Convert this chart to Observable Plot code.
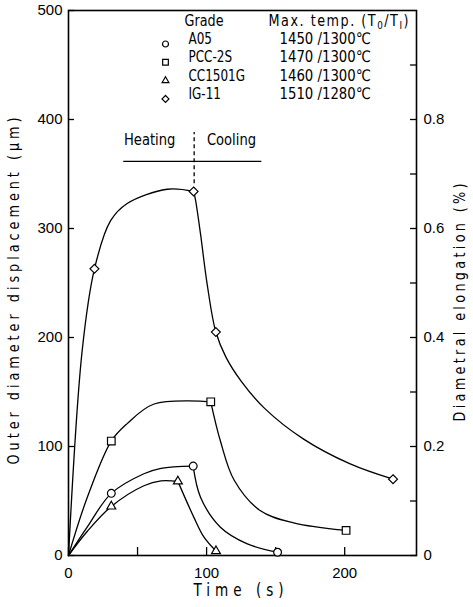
<!DOCTYPE html>
<html><head><meta charset="utf-8">
<script src="https://cdn.jsdelivr.net/npm/d3@7"></script>
<script src="https://cdn.jsdelivr.net/npm/@observablehq/plot@0.6"></script>
<style>
body{margin:0;background:#fff;}
#chart{width:473px;height:607px;}
.cond text{font-family:"DejaVu Sans",sans-serif;}
</style></head><body><div id="chart"></div>
<script>
// ---- data ----
const grades = ["A05", "PCC-2S", "CC1501G", "IG-11"];
const maxTemps = ["1450 /1300℃", "1470 /1300℃", "1460 /1300℃", "1510 /1280℃"];

// curve traces [time (s), outer diameter displacement (µm)]
const a05Heating = [[0,0],[13.5,26],[31,57],[54.6,75],[67,80],[90.3,82]];
const a05Cooling = [[90.3,82],[95.6,53.5],[110,26],[129.5,10.7],[151.4,3]];
const pccHeating = [[0,0],[13.5,53],[31,105],[42.5,121],[62,139],[103,141]];
const pccCooling = [[103,141],[110,105],[120,69],[139,41],[163,30],[201,23]];
const ccHeating = [[0,0],[13.5,22],[31,45],[54.6,64],[67,68.5],[79.2,68]];
const ccCooling = [[79.2,68],[90.8,35],[98,17],[106.8,4]];
const igHeating = [[0,0],[9.9,188],[18.8,263],[30.4,307],[42.5,323],[71.5,336],[90.6,334]];
const igCooling = [[90.6,334],[92,326],[95.6,295],[100.4,249],[106.7,205],[114,182],[125,160],[142,135],[170,107],[204,84],[235,70]];

// measured points (markers)
const a05Points = [[31,57],[90.3,82],[151.4,3]];
const pccPoints = [[31,105],[103,141],[201,23]];
const ccPoints = [[31,45],[79.2,68],[106.8,4]];
const igPoints = [[18.8,263],[90.6,334],[106.7,205],[235,70]];

// axes
const timeTicks = [0, 100, 200];
const timeMinorTicks = [50, 150];
const dispTicks = [0, 100, 200, 300, 400, 500];
const elongTicks = [0, 0.2, 0.4, 0.6, 0.8];
const elongMinorTicks = [0.1, 0.3, 0.5, 0.7, 0.9];
const elongPerDisp = 0.2 / 100; // % per µm (paired axes)

// heating / cooling annotation
const switchTime = 91;
const phaseBar = {t1: 40, t2: 140, d: 361.5, top: 388, bottom: 341, label: 377};
const phaseLabels = [{t: 58.8, text: "Heating"}, {t: 118, text: "Cooling"}];

// ---- build tables ----
const curves = [
  [grades[0], "h", a05Heating], [grades[0], "c", a05Cooling],
  [grades[1], "h", pccHeating], [grades[1], "c", pccCooling],
  [grades[2], "h", ccHeating], [grades[2], "c", ccCooling],
  [grades[3], "h", igHeating], [grades[3], "c", igCooling]
].flatMap(([g, p, arr]) => arr.map(([t, d]) => ({grade: g, key: g + p, t, d})));
const points = [a05Points, pccPoints, ccPoints, igPoints]
  .flatMap((arr, i) => arr.map(([t, d]) => ({grade: grades[i], t, d})));

// marker radius per symbol (style)
const markerR = [3.9, 4.3, 3.3, 4.0];
const legendR = [3.0, 3.2, 2.5, 3.1];

const pointMarks = grades.map((g, i) =>
  Plot.dot(points.filter(p => p.grade === g), {x: "t", y: "d", symbol: "grade", r: markerR[i], fill: "white", stroke: "black", strokeWidth: 1.2}));

const legendMarks = grades.flatMap((g, i) => [
  Plot.dot([g], {frameAnchor: "top-left", dx: 97, dy: 33.5 + 18.3 * i, symbol: d => d, r: legendR[i], stroke: "black", strokeWidth: 1.2, fill: "white"}),
  Plot.text([g], {frameAnchor: "top-left", dx: 120, dy: 33.5 + 18.3 * i, text: d => d, textAnchor: "start", fontSize: 16, className: "cond c75"}),
  Plot.text([maxTemps[i]], {frameAnchor: "top-left", dx: 211, dy: 33.5 + 18.3 * i, text: d => d, textAnchor: "start", fontSize: 16, className: "cond c83"})
]);

const chart = Plot.plot({
  width: 473, height: 607,
  marginLeft: 68, marginRight: 57, marginTop: 10, marginBottom: 52,
  x: {domain: [0, 252]},
  y: {domain: [0, 500]},
  symbol: {domain: grades, range: ["circle", "square", "triangle", "diamond2"]},
  style: {fontFamily: "'Liberation Sans', Arial, sans-serif", fontSize: "15px", color: "black", background: "white"},
  marks: [
    Plot.frame({stroke: "black", strokeWidth: 1.6}),
    Plot.axisY(dispTicks, {anchor: "left", tickSize: -6, tickPadding: 12, fontSize: 15, label: null, strokeWidth: 1.3}),
    Plot.axisY(elongTicks.map(v => v / elongPerDisp), {anchor: "right", tickSize: -7, tickPadding: 14, fontSize: 15, label: null, strokeWidth: 1.3,
      tickFormat: d => String(+(d * elongPerDisp).toFixed(1))}),
    Plot.axisY(elongMinorTicks.map(v => v / elongPerDisp), {anchor: "right", tickSize: -7, tickFormat: () => "", label: null, strokeWidth: 1.3}),
    Plot.axisX(timeTicks, {anchor: "bottom", tickSize: -8, tickPadding: 20, fontSize: 15, label: null, strokeWidth: 1.3}),
    Plot.axisX(timeMinorTicks, {anchor: "bottom", tickSize: -8, tickFormat: () => "", label: null, strokeWidth: 1.3}),
    Plot.line(curves, {x: "t", y: "d", z: "key", curve: "catmull-rom", stroke: "black", strokeWidth: 1.3}),
    ...pointMarks,
    // heating / cooling
    Plot.ruleY([phaseBar.d], {x1: phaseBar.t1, x2: phaseBar.t2, stroke: "black", strokeWidth: 1.3}),
    Plot.ruleX([switchTime], {y1: phaseBar.bottom, y2: phaseBar.top, stroke: "black", strokeWidth: 1.3, strokeDasharray: "4,3"}),
    Plot.text(phaseLabels, {x: "t", y: () => phaseBar.label, text: "text", fontSize: 16, className: "cond c82"}),
    // legend
    Plot.text(["Grade"], {frameAnchor: "top-left", dx: 116, dy: 15, text: d => d, textAnchor: "start", fontSize: 16, className: "cond w39"}),
    Plot.text(["Max. temp. (T0/TI)"], {frameAnchor: "top-left", dx: 200, dy: 15, text: d => d, textAnchor: "start", fontSize: 16, className: "cond hdr w140"}),
    ...legendMarks,
    // axis titles
    Plot.text(["Outer diameter displacement (μm)"], {frameAnchor: "left", dx: -50, dy: 8, rotate: -90, textAnchor: "middle", text: d => d, fontSize: 16, className: "cond w347"}),
    Plot.text(["Diametral elongation (%)"], {frameAnchor: "right", dx: 48, dy: 19.5, rotate: -90, textAnchor: "middle", text: d => d, fontSize: 16, className: "cond w238"}),
    Plot.text(["Time (s)"], {frameAnchor: "bottom", dx: -4, dy: 40, text: d => d, fontSize: 17, className: "cond w90"})
  ]
});
document.getElementById("chart").append(chart);

// subscripts in the legend header
d3.select(chart).selectAll(".hdr text").each(function () {
  const t = d3.select(this);
  t.text(null);
  t.append("tspan").text("Max. temp. (T");
  t.append("tspan").attr("dy", 3).attr("font-size", 11).text("0");
  t.append("tspan").attr("dy", -3).text("/T");
  t.append("tspan").attr("dy", 3).attr("font-size", 11).text("I");
  t.append("tspan").attr("dy", -3).text(")");
});

// condensed, letter-spaced lettering like the original labels
function condense(el, f, target) {
  const x = +el.getAttribute("x") || 0, y = +el.getAttribute("y") || 0;
  const tr = el.getAttribute("transform") || "";
  el.removeAttribute("x"); el.removeAttribute("y");
  el.setAttribute("transform", `${tr} translate(${x},${y}) scale(${f},1)`);
  if (target) { el.setAttribute("textLength", target / f); el.setAttribute("lengthAdjust", "spacing"); }
}
const cfg = [[".c75", 0.75], [".c83", 0.83], [".c82", 0.82], [".w39", 0.8, 39], [".w140", 0.8, 140], [".w347", 0.8, 347], [".w238", 0.8, 238], [".w90", 0.8, 90]];
for (const [sel, f, target] of cfg) {
  chart.querySelectorAll(`${sel} text`).forEach(el => condense(el, f, target));
}
</script></body></html>
